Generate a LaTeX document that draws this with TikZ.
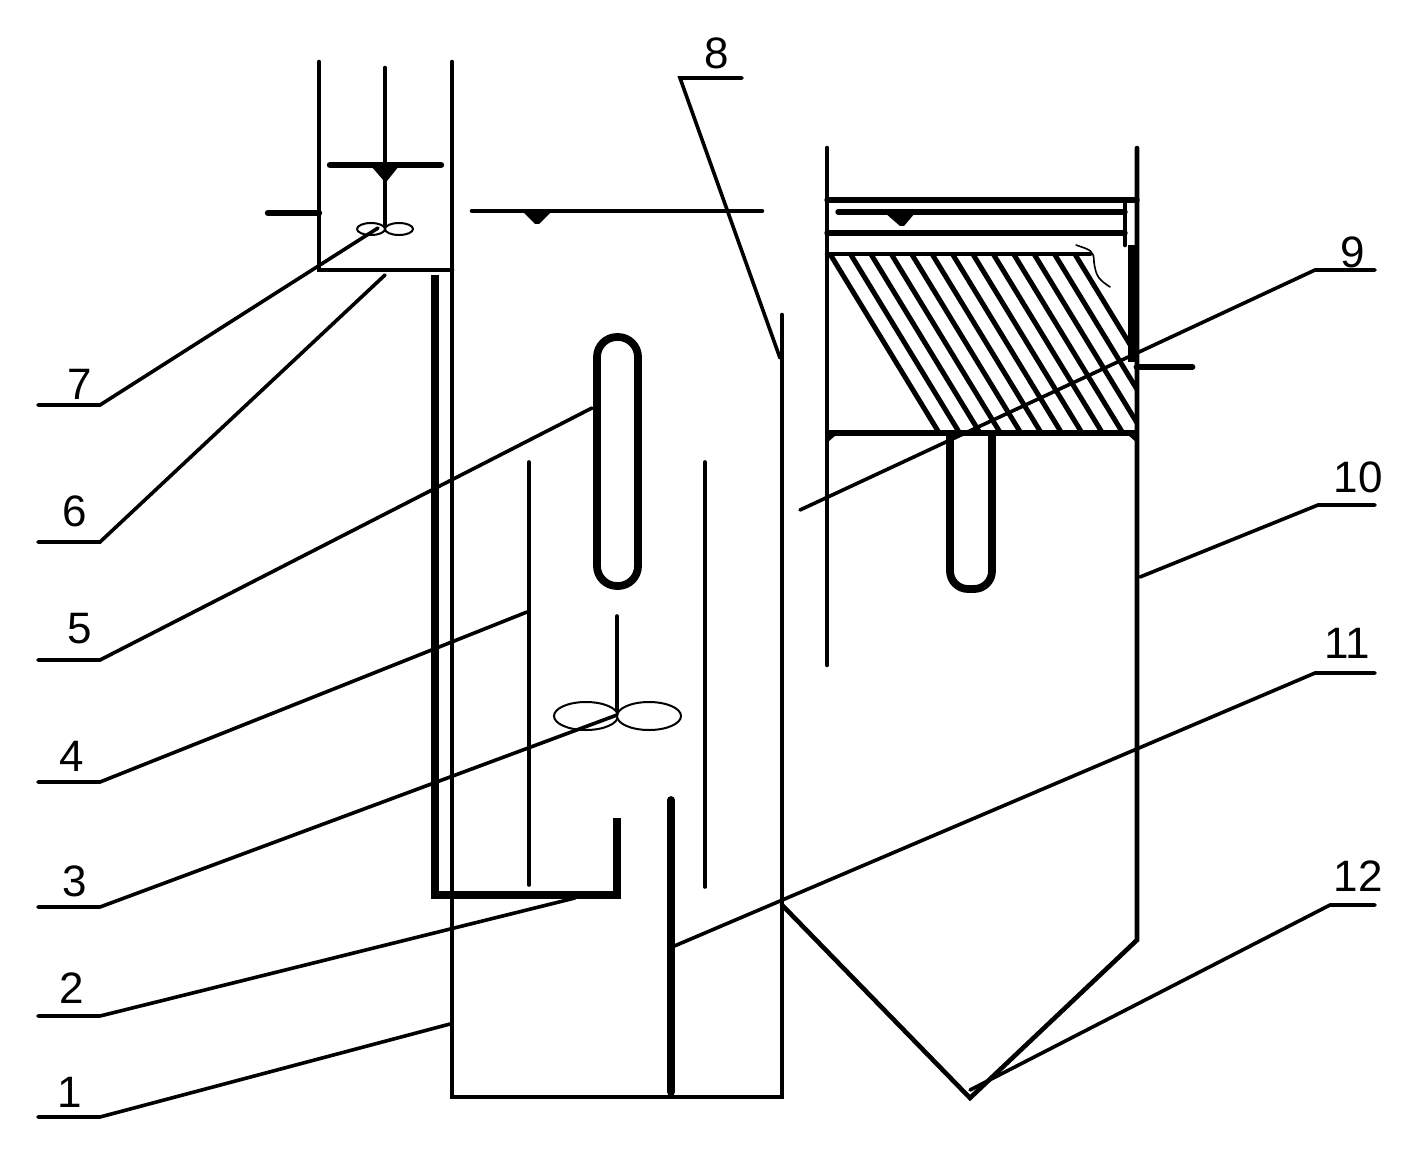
\documentclass[tikz,border=0pt]{standalone}
\usepackage{fontspec}
\setmainfont{Liberation Sans}
\begin{document}
\begin{tikzpicture}[x=0.5pt,y=-0.5pt,line cap=round,
  wall/.style={line width=2.3pt},
  thin wall/.style={line width=1.8pt},
  thick wall/.style={line width=3.9pt},
  leader/.style={line width=1.8pt},
  lab/.style={font=\fontsize{22}{22}\selectfont,inner sep=0pt},
  blade/.style={line width=1pt,draw=black,fill=white}]
\useasboundingbox (0,0) rectangle (1417,1150);
\fill[white] (0,0) rectangle (1417,1150);
% leader ends
\foreach \n/\ax/\ay/\bx/\by/\tx/\ty in {
  7/38/405/100/405/378/228, 6/38/542/100/542/385/275, 5/38/660/100/660/592/408,
  4/38/782/100/782/527/612, 3/38/907/100/907/617/715, 2/38/1016/100/1016/575/898,
  1/38/1117/100/1117/450/1024, 9/1375/270/1315/270/800/510, 10/1375/505/1318/505/1140/577,
  11/1375/673/1315/673/672/947, 12/1375/905/1330/905/970/1090, 8/742/78/680/78/780/358}{
  \coordinate (a\n) at (\ax,\ay);
  \coordinate (b\n) at (\bx,\by);
  \coordinate (t\n) at (\tx,\ty);
}
% tanks
\draw[wall] (452,62) -- (452,1097) -- (782,1097) -- (782,315);
\draw[wall] (782,905) -- (970,1098) -- (1137,940) -- (1137,148);
\draw[wall] (827,148) -- (827,665);
% head box
\draw[wall] (319,62) -- (319,270) -- (452,270);
\draw[wall] (385,68) -- (385,225);
\draw[thick wall,line width=3.2pt] (330,165) -- (441,165);
\fill (371,166) -- (399,166) -- (387,181) -- (384,181) -- cycle;
\draw[thick wall,line width=3.2pt] (268,213) -- (319,213);
\draw[blade] (371,229) ellipse (14 and 6);
\draw[blade] (399,229) ellipse (14 and 6);
% main water level
\draw[wall] (472,211) -- (762,211);
\fill (523,212) -- (551,212) -- (539,224) -- (535,224) -- cycle;
% feed pipe
\draw[thick wall,line cap=butt,line join=miter] (435,275) -- (435,895) -- (617,895) -- (617,818);
% baffles
\draw[thin wall] (529,462) -- (529,885);
\draw[thin wall] (705,462) -- (705,887);
\draw[thick wall] (671,800) -- (671,1092);
% draft tube 5
\draw[thick wall,line join=round,rounded corners=10pt] (597,337) -- (638,337) -- (638,586) -- (597,586) -- cycle;
% stirrer
\draw[thin wall] (617,616) -- (617,715);
\draw[blade] (586,716) ellipse (32 and 14);
\draw[blade] (649,716) ellipse (32 and 14);
% settler tube
\draw[thick wall,line join=round,line cap=butt,rounded corners=9pt] (950,435) -- (950,589) -- (992,589) -- (992,435);
% hatching
\begin{scope}
  \clip (827,254) -- (1137,254) -- (1137,433) -- (827,433) -- cycle;
  \foreach \i in {0,...,12}{
    \draw[line width=2.5pt] ({830+20.4*\i},254) -- ({830+20.4*\i+0.61*179},433);
  }
\end{scope}
% settler top
\draw[line width=2.7pt] (827,200) -- (1137,200);
\draw[line width=2.7pt] (838,212) -- (1125,212);
\fill (885,213) -- (915,213) -- (904,226) -- (900,226) -- cycle;
\draw[line width=2.7pt] (827,233) -- (1125,233);
\draw[wall] (1125,200) -- (1125,245);
\draw[wall] (827,254) -- (1090,254);
\draw[line width=2.9pt,line cap=butt] (827,433) -- (1137,433);
\draw[line width=5pt,line cap=butt] (1133,245) -- (1133,362);
\draw[thick wall,line width=3.4pt] (1137,367) -- (1192,367);
\draw[line width=0.8pt] (1076,245) .. controls (1090,250) and (1094,250) .. (1094,262) .. controls (1096,278) and (1100,280) .. (1110,287);
% fillets
\fill (828,435) -- (836,435) -- (828,442) -- cycle;
\fill (1136,435) -- (1128,435) -- (1136,442) -- cycle;
% leaders
\foreach \n in {1,...,12}{
  \draw[leader] (a\n) -- (b\n) -- (t\n);
}
% labels
\node[lab] (n7) at (80,384) {7};
\node[lab] (n6) at (75,511) {6};
\node[lab] (n5) at (80,629) {5};
\node[lab] (n4) at (72,756) {4};
\node[lab] (n3) at (75,881) {3};
\node[lab] (n2) at (72,988) {2};
\node[lab] (n1) at (70,1092) {1};
\node[lab] (n8) at (717,53) {8};
\node[lab] (n9) at (1353,252) {9};
\node[lab] (n10) at (1358,477) {10};
\node[lab] (n11) at (1347,643) {11};
\node[lab] (n12) at (1358,876) {12};
\end{tikzpicture}
\end{document}
